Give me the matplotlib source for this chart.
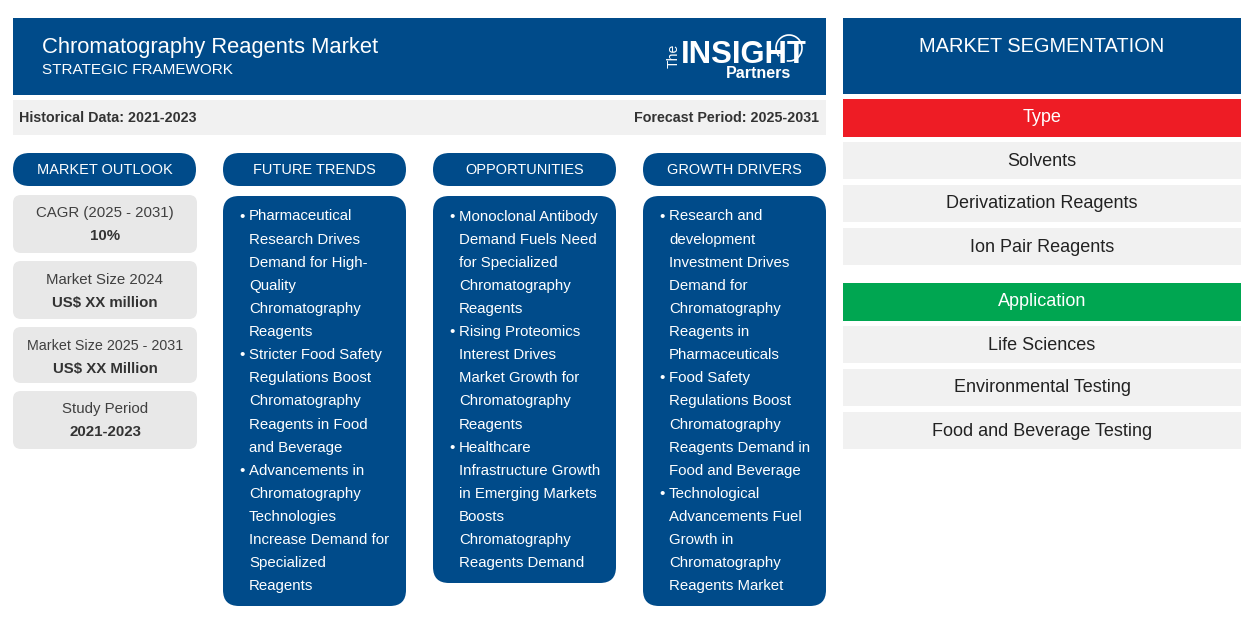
import matplotlib
matplotlib.use("Agg")
import matplotlib.pyplot as plt
from matplotlib.patches import Rectangle, FancyBboxPatch, Arc

plt.rcParams["font.family"] = ["Liberation Sans", "DejaVu Sans"]

BLUE = "#004b8a"
GREY = "#e8e8e8"
LIGHT = "#f1f1f1"
RED = "#ee1c25"
GREEN = "#00a651"
DARK = "#333333"

title = "Chromatography Reagents Market"
subtitle = "STRATEGIC FRAMEWORK"
historical = "Historical Data: 2021-2023"
forecast = "Forecast Period: 2025-2031"

headers = ["MARKET OUTLOOK", "FUTURE TRENDS", "OPPORTUNITIES", "GROWTH DRIVERS"]

outlook_labels = ["CAGR (2025 - 2031)", "Market Size 2024", "Market Size 2025 - 2031", "Study Period"]
outlook_values = ["10%", "US$ XX million", "US$ XX Million", "2021-2023"]

trends = [
    ["Pharmaceutical", "Research Drives", "Demand for High-", "Quality", "Chromatography", "Reagents"],
    ["Stricter Food Safety", "Regulations Boost", "Chromatography", "Reagents in Food", "and Beverage"],
    ["Advancements in", "Chromatography", "Technologies", "Increase Demand for", "Specialized", "Reagents"],
]
opportunities = [
    ["Monoclonal Antibody", "Demand Fuels Need", "for Specialized", "Chromatography", "Reagents"],
    ["Rising Proteomics", "Interest Drives", "Market Growth for", "Chromatography", "Reagents"],
    ["Healthcare", "Infrastructure Growth", "in Emerging Markets", "Boosts", "Chromatography", "Reagents Demand"],
]
drivers = [
    ["Research and", "development", "Investment Drives", "Demand for", "Chromatography", "Reagents in", "Pharmaceuticals"],
    ["Food Safety", "Regulations Boost", "Chromatography", "Reagents Demand in", "Food and Beverage"],
    ["Technological", "Advancements Fuel", "Growth in", "Chromatography", "Reagents Market"],
]

type_items = ["Solvents", "Derivatization Reagents", "Ion Pair Reagents"]
application_items = ["Life Sciences", "Environmental Testing", "Food and Beverage Testing"]


def px(size):
    # font size given in pixels of the 100 dpi figure
    return size * 0.72


def rbox(ax, x0, y0, x1, y1, r, color):
    ax.add_patch(FancyBboxPatch((x0 + r, y0 + r), x1 - x0 - 2 * r, y1 - y0 - 2 * r,
                                boxstyle=f"round,pad={r},rounding_size={r}",
                                facecolor=color, edgecolor="none"))


def rect(ax, x0, y0, x1, y1, color):
    ax.add_patch(Rectangle((x0, y0), x1 - x0, y1 - y0, facecolor=color, edgecolor="none"))


def bullets(ax, x, y, groups):
    step = 23.12
    for group in groups:
        for i, line in enumerate(group):
            if i == 0:
                ax.text(x, y, "•", color="white", fontsize=px(15), ha="left", va="center")
            ax.text(x + 10, y, line, color="white", fontsize=px(15), ha="left", va="center")
            y += step


fig = plt.figure(figsize=(12.54, 6.23), dpi=100)
ax = fig.add_axes([0, 0, 1, 1])
ax.set_xlim(0, 1254)
ax.set_ylim(623, 0)
ax.axis("off")

# header band
rect(ax, 13, 18, 826, 95, BLUE)
ax.text(42, 48, title, color="white", fontsize=px(22), ha="left", va="center")
ax.text(42, 69.5, subtitle, color="white", fontsize=px(15.3), ha="left", va="center")

# logo
ax.text(674, 56, "The", color="white", fontsize=px(14), rotation=90, ha="center", va="center")
ax.text(681, 55, "INSIGHT", color="white", fontsize=px(31), fontweight="bold", ha="left", va="center")
ax.text(726, 73, "Partners", color="white", fontsize=px(16), fontweight="bold", ha="left", va="center")
ax.add_patch(Arc((789, 48), 26, 26, theta1=-220, theta2=100, color="white", lw=1.2))

# period band
rect(ax, 13, 100, 826, 135, LIGHT)
ax.text(19, 118, historical, color=DARK, fontsize=px(14.2), fontweight="bold", ha="left", va="center")
ax.text(819, 118, forecast, color=DARK, fontsize=px(14.2), fontweight="bold", ha="right", va="center")

# column headers
col_x = [13, 223, 433, 643]
for x, label in zip(col_x, headers):
    rbox(ax, x, 153, x + 183, 186, 16.5, BLUE)
    ax.text(x + 91.5, 170, label, color="white", fontsize=px(14.5), ha="center", va="center")

# outlook cards
card_y = [(195, 253), (261, 319), (327, 383), (391, 449)]
label_size = [15, 15, 14.2, 15]
for (y0, y1), lab, val, size in zip(card_y, outlook_labels, outlook_values, label_size):
    rbox(ax, 13, y0, 197, y1, 8, GREY)
    ax.text(105, y0 + 18.5, lab, color="#404040", fontsize=px(size), ha="center", va="center")
    ax.text(105, y0 + 41.5, val, color=DARK, fontsize=px(15), fontweight="bold", ha="center", va="center")

# text columns
rbox(ax, 223, 196, 406, 606, 16, BLUE)
rbox(ax, 433, 196, 616, 583, 16, BLUE)
rbox(ax, 643, 196, 826, 606, 16, BLUE)
bullets(ax, 239, 216.5, trends)
bullets(ax, 449, 216.5, opportunities)
bullets(ax, 659, 216.5, drivers)

# segmentation panel
rect(ax, 843, 18, 1241, 94, BLUE)
ax.text(1042, 47, "MARKET SEGMENTATION", color="white", fontsize=px(20), ha="center", va="center")

rect(ax, 843, 99, 1241, 137, RED)
ax.text(1042, 118, "Type", color="white", fontsize=px(18), ha="center", va="center")
for y0, label in zip([142, 185, 228], type_items):
    rect(ax, 843, y0, 1241, y0 + 37, LIGHT)
    ax.text(1042, y0 + 19, label, color="#222222", fontsize=px(18), ha="center", va="center")

rect(ax, 843, 283, 1241, 321, GREEN)
ax.text(1042, 302, "Application", color="white", fontsize=px(18), ha="center", va="center")
for y0, label in zip([326, 369, 412], application_items):
    rect(ax, 843, y0, 1241, y0 + 37, LIGHT)
    ax.text(1042, y0 + 19, label, color="#222222", fontsize=px(18), ha="center", va="center")

fig.savefig("out.png", dpi=100)
